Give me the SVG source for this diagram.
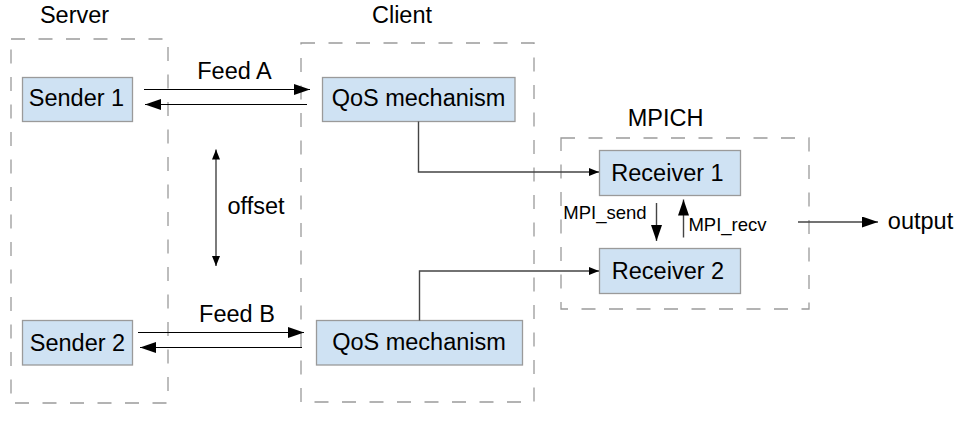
<svg xmlns="http://www.w3.org/2000/svg" width="960" height="421" viewBox="0 0 960 421">
<defs>
<style>
.grp{fill:none;stroke:#9a9a9a;stroke-width:1.3;stroke-dasharray:14 13.5}
.box{fill:#cfe2f3;stroke:#9a9a9a;stroke-width:1.3}
.t{font-family:"Liberation Sans",Arial,sans-serif;font-size:23.5px;fill:#000;text-anchor:middle}
.s{font-family:"Liberation Sans",Arial,sans-serif;font-size:18.5px;fill:#000;text-anchor:middle}
.ln{fill:none;stroke:#000;stroke-width:1.2}
.cn{fill:none;stroke:#444;stroke-width:1.4}
</style>
<marker id="big" markerUnits="userSpaceOnUse" markerWidth="17" markerHeight="11" viewBox="0 0 17 11" refX="16" refY="5.5" orient="auto">
<path d="M0,0 L16,5.5 L0,11 Z" fill="#000"/>
</marker>
<marker id="small" markerUnits="userSpaceOnUse" markerWidth="11" markerHeight="9" viewBox="0 0 11 9" refX="10" refY="4.5" orient="auto">
<path d="M0,0.5 L10,4.5 L0,8.5 Z" fill="#000"/>
</marker>
</defs>

<g id="groups">
<rect class="grp" x="11" y="39" width="157" height="364"/>
<rect class="grp" x="301" y="43" width="233" height="359"/>
<rect class="grp" x="561" y="138" width="248" height="171"/>
<text class="t" x="74.5" y="23">Server</text>
<text class="t" x="402" y="23">Client</text>
<text class="t" x="665.5" y="126">MPICH</text>
</g>

<g id="sender1">
<rect class="box" x="22.5" y="77.5" width="110" height="44"/>
<text class="t" x="76.5" y="106">Sender 1</text>
</g>
<g id="qos1">
<rect class="box" x="322.5" y="77.5" width="192.5" height="44"/>
<text class="t" x="418.5" y="106">QoS mechanism</text>
</g>
<g id="sender2">
<rect class="box" x="22.5" y="320.5" width="110" height="44.5"/>
<text class="t" x="77.5" y="350.5">Sender 2</text>
</g>
<g id="qos2">
<rect class="box" x="316.5" y="320.5" width="206" height="44.5"/>
<text class="t" x="419" y="350">QoS mechanism</text>
</g>
<g id="receiver1">
<rect class="box" x="599.5" y="150.5" width="141" height="45"/>
<text class="t" x="667.5" y="181">Receiver 1</text>
</g>
<g id="receiver2">
<rect class="box" x="599.5" y="248.5" width="141" height="45"/>
<text class="t" x="668" y="279">Receiver 2</text>
</g>
<g id="output">
<text class="t" x="920.5" y="228.5">output</text>
</g>

<g id="connectors">
<line class="ln" x1="144" y1="89.5" x2="310" y2="89.5" marker-end="url(#big)"/>
<line class="ln" x1="307" y1="104.5" x2="145" y2="104.5" marker-end="url(#big)"/>
<text class="t" x="234.5" y="78.5">Feed A</text>
<line class="ln" x1="138" y1="332.5" x2="304" y2="332.5" marker-end="url(#big)"/>
<line class="ln" x1="302" y1="347.5" x2="140" y2="347.5" marker-end="url(#big)"/>
<text class="t" x="237" y="321.5">Feed B</text>
<line class="cn" x1="216" y1="207" x2="216" y2="149.5" marker-end="url(#small)"/>
<line class="cn" x1="216" y1="207" x2="216" y2="266" marker-end="url(#small)"/>
<text class="t" x="256" y="213.5">offset</text>
<path class="cn" d="M418.5,121.5 V172 H599" marker-end="url(#small)"/>
<path class="cn" d="M419.5,320.5 V271 H599" marker-end="url(#small)"/>
<line class="cn" x1="656.5" y1="203" x2="656.5" y2="241" marker-end="url(#big)"/>
<text class="s" x="605" y="219">MPI_send</text>
<line class="cn" x1="683.5" y1="237.5" x2="683.5" y2="199.5" marker-end="url(#big)"/>
<text class="s" x="727.5" y="231">MPI_recv</text>
<line class="cn" x1="798" y1="222" x2="878" y2="222" marker-end="url(#big)"/>
</g>
</svg>
